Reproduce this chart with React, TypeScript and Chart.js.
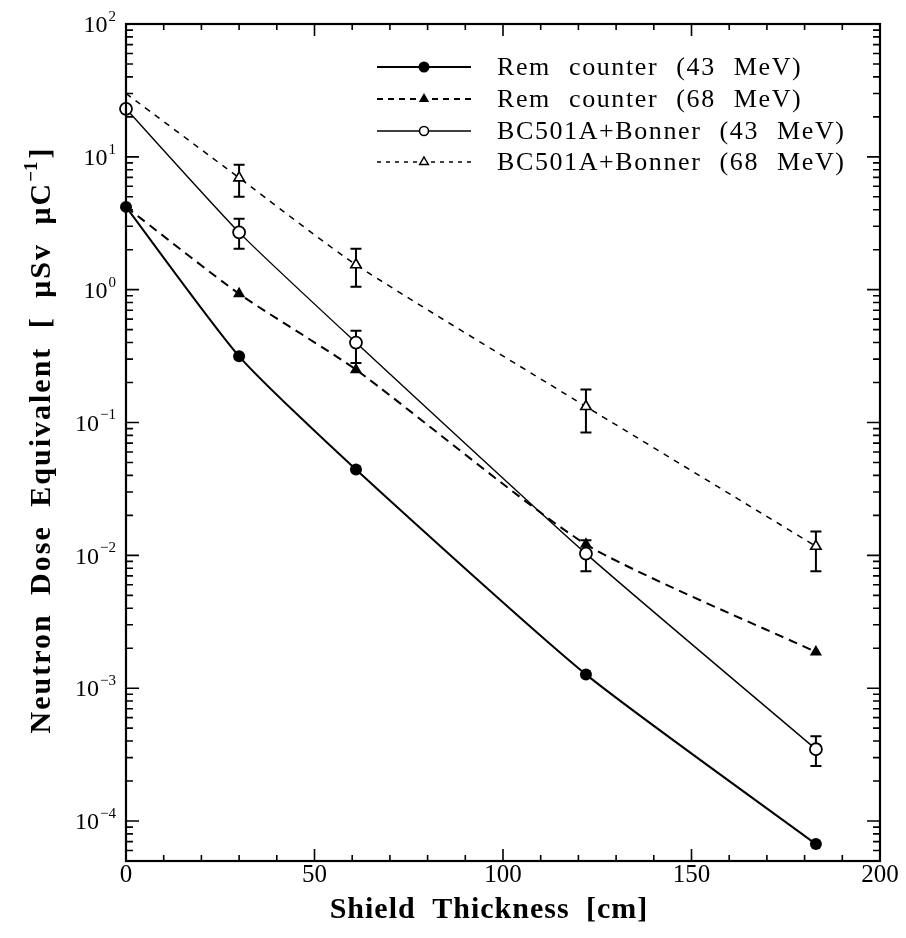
import React, { useEffect, useRef } from "react";
import { Chart, registerables } from "chart.js";

Chart.register(...registerables);

// ---- data ----
const thickness = [0, 30, 61, 122, 183];
const rem43 = [4.2, 0.315, 0.0443, 0.00127, 0.000067];
const rem68 = [4.2, 0.93, 0.25, 0.0121, 0.00187];
const bc43 = [23, 2.7, 0.4, 0.0103, 0.000347];
const bc68 = [30, 6.95, 1.54, 0.132, 0.0117];
const bc43Low = [null, 2.03, 0.28, 0.0076, 0.000259];
const bc43High = [null, 3.42, 0.49, 0.013, 0.000435];
const bc68Low = [null, 5.0, 1.05, 0.084, 0.0076];
const bc68High = [null, 8.7, 2.03, 0.177, 0.0151];
const seriesLabels = [
  "Rem counter (43 MeV)",
  "Rem counter (68 MeV)",
  "BC501A+Bonner (43 MeV)",
  "BC501A+Bonner (68 MeV)",
];
const xTickLabels = [0, 50, 100, 150, 200];
const yDecades = [-4, -3, -2, -1, 0, 1, 2];
const xTitle = "Shield Thickness [cm]";
const yTitleMain = "Neutron Dose Equivalent [ \u03bcSv \u03bcC";
const yTitleSup = "\u22121";
const yTitleEnd = "]";

const X_MIN = 0;
const X_MAX = 200;
const Y_MIN = 5e-5;
const Y_MAX = 100;

const SERIF = "'Liberation Serif', 'Times New Roman', serif";

function pts(ys: number[]) {
  return thickness.map((x, i) => ({ x, y: ys[i] }));
}

function setSpacing(ctx: any, letter: number, word: number) {
  ctx.letterSpacing = letter + "px";
  ctx.wordSpacing = word + "px";
}

function drawMarker(ctx: CanvasRenderingContext2D, kind: string, x: number, y: number) {
  ctx.save();
  ctx.strokeStyle = "#000";
  ctx.setLineDash([]);
  if (kind === "fcircle") {
    ctx.fillStyle = "#000";
    ctx.beginPath();
    ctx.arc(x, y, 5.5, 0, Math.PI * 2);
    ctx.fill();
  } else if (kind === "ocircle") {
    ctx.fillStyle = "#fff";
    ctx.lineWidth = 1.6;
    ctx.beginPath();
    ctx.arc(x, y, 4.5, 0, Math.PI * 2);
    ctx.fill();
    ctx.stroke();
  } else {
    const r = kind === "ftri" ? 6 : 5;
    ctx.beginPath();
    ctx.moveTo(x, y - r);
    ctx.lineTo(x + 0.866 * r, y + 0.5 * r);
    ctx.lineTo(x - 0.866 * r, y + 0.5 * r);
    ctx.closePath();
    if (kind === "ftri") {
      ctx.fillStyle = "#000";
      ctx.fill();
    } else {
      ctx.fillStyle = "#fff";
      ctx.lineWidth = 1.5;
      ctx.fill();
      ctx.stroke();
    }
  }
  ctx.restore();
}

const deco = {
  id: "deco",
  beforeDatasetsDraw(chart: any) {
    const ctx: CanvasRenderingContext2D = chart.ctx;
    const xs = chart.scales.x;
    const ys = chart.scales.y;
    ctx.save();
    ctx.strokeStyle = "#000";
    ctx.lineWidth = 2;
    const bars: [any[], any[]][] = [
      [bc43Low, bc43High],
      [bc68Low, bc68High],
    ];
    bars.forEach(([lo, hi]) => {
      thickness.forEach((t, i) => {
        if (lo[i] == null || hi[i] == null) return;
        const px = xs.getPixelForValue(t);
        const yl = ys.getPixelForValue(lo[i]);
        const yh = ys.getPixelForValue(hi[i]);
        ctx.beginPath();
        ctx.moveTo(px, yl);
        ctx.lineTo(px, yh);
        ctx.moveTo(px - 5.5, yl);
        ctx.lineTo(px + 5.5, yl);
        ctx.moveTo(px - 5.5, yh);
        ctx.lineTo(px + 5.5, yh);
        ctx.stroke();
      });
    });
    ctx.restore();
  },
  afterDraw(chart: any) {
    const ctx: any = chart.ctx;
    const { left, right, top, bottom } = chart.chartArea;
    const xs = chart.scales.x;
    const ys = chart.scales.y;
    ctx.save();
    ctx.strokeStyle = "#000";
    ctx.fillStyle = "#000";
    // frame
    ctx.lineWidth = 2.2;
    ctx.strokeRect(left, top, right - left, bottom - top);
    // x ticks
    ctx.lineWidth = 1.6;
    for (let v = X_MIN; v <= X_MAX; v += 10) {
      const px = xs.getPixelForValue(v);
      const len = v % 50 === 0 ? 12 : 6;
      ctx.beginPath();
      ctx.moveTo(px, bottom);
      ctx.lineTo(px, bottom - len);
      ctx.moveTo(px, top);
      ctx.lineTo(px, top + len);
      ctx.stroke();
    }
    // y ticks
    for (let k = -5; k <= 2; k++) {
      for (let m = 1; m <= 9; m++) {
        const v = m * Math.pow(10, k);
        if (v < Y_MIN * 0.999 || v > Y_MAX * 1.001) continue;
        const py = ys.getPixelForValue(v);
        const len = m === 1 ? 13 : 7;
        ctx.beginPath();
        ctx.moveTo(left, py);
        ctx.lineTo(left + len, py);
        ctx.moveTo(right, py);
        ctx.lineTo(right - len, py);
        ctx.stroke();
      }
    }
    // x tick labels
    setSpacing(ctx, 0, 0);
    ctx.font = `25px ${SERIF}`;
    ctx.textAlign = "center";
    ctx.textBaseline = "middle";
    xTickLabels.forEach((v) => {
      ctx.fillText(String(v), xs.getPixelForValue(v), 875);
    });
    // y tick labels
    yDecades.forEach((k) => {
      const py = ys.getPixelForValue(Math.pow(10, k));
      const exp = k < 0 ? "\u2212" + String(-k) : String(k);
      ctx.font = `15px ${SERIF}`;
      const we = ctx.measureText(exp).width;
      ctx.font = `24px ${SERIF}`;
      const wb = ctx.measureText("10").width;
      const xr = left - 10;
      ctx.textAlign = "left";
      ctx.textBaseline = "middle";
      ctx.fillText("10", xr - we - wb - 1, py + 2);
      ctx.font = `15px ${SERIF}`;
      ctx.fillText(exp, xr - we, py - 7);
    });
    // x title
    ctx.font = `bold 30px ${SERIF}`;
    setSpacing(ctx, 1, 8);
    ctx.textAlign = "center";
    ctx.textBaseline = "middle";
    ctx.fillText(xTitle, 489, 910);
    // y title
    ctx.save();
    ctx.translate(42, 440);
    ctx.rotate(-Math.PI / 2);
    ctx.textAlign = "left";
    ctx.textBaseline = "middle";
    ctx.font = `bold 30px ${SERIF}`;
    setSpacing(ctx, 2, 9);
    const w1 = ctx.measureText(yTitleMain).width;
    const w3 = ctx.measureText(yTitleEnd).width;
    ctx.font = `bold 19px ${SERIF}`;
    setSpacing(ctx, 0, 0);
    const w2 = ctx.measureText(yTitleSup).width;
    let sx = -(w1 + w2 + w3 + 3) / 2;
    ctx.font = `bold 30px ${SERIF}`;
    setSpacing(ctx, 2, 9);
    ctx.fillText(yTitleMain, sx, 0);
    sx += w1;
    ctx.font = `bold 19px ${SERIF}`;
    setSpacing(ctx, 0, 0);
    ctx.fillText(yTitleSup, sx, -10);
    sx += w2 + 3;
    ctx.font = `bold 30px ${SERIF}`;
    ctx.fillText(yTitleEnd, sx, 0);
    ctx.restore();
    // legend
    const rows = [67, 99, 131, 162];
    const styles = [
      { w: 2, dash: [] as number[], m: "fcircle" },
      { w: 1.8, dash: [6, 5], m: "ftri" },
      { w: 1.5, dash: [] as number[], m: "ocircle" },
      { w: 1.4, dash: [4, 5], m: "otri" },
    ];
    rows.forEach((ry, i) => {
      const st = styles[i];
      ctx.save();
      ctx.lineWidth = st.w;
      ctx.setLineDash(st.dash);
      ctx.beginPath();
      ctx.moveTo(377, ry);
      ctx.lineTo(471, ry);
      ctx.stroke();
      ctx.restore();
      drawMarker(ctx, st.m, 424, ry);
      ctx.font = `26px ${SERIF}`;
      setSpacing(ctx, 1.6, 10);
      ctx.textAlign = "left";
      ctx.textBaseline = "middle";
      ctx.fillStyle = "#000";
      ctx.fillText(seriesLabels[i], 497, ry + 1);
    });
    setSpacing(ctx, 0, 0);
    ctx.restore();
  },
};

export default function App() {
  const ref = useRef<HTMLCanvasElement | null>(null);
  useEffect(() => {
    document.body.style.margin = "0";
    const canvas = ref.current;
    if (!canvas) return;
    const chart = new Chart(canvas, {
      type: "line",
      data: {
        datasets: [
          {
            label: seriesLabels[0],
            data: pts(rem43),
            borderColor: "#000",
            backgroundColor: "#000",
            borderWidth: 2,
            pointStyle: "circle",
            pointRadius: 6,
            pointBackgroundColor: "#000",
            pointBorderColor: "#000",
            pointBorderWidth: 0,
            tension: 0.2,
            clip: false,
          },
          {
            label: seriesLabels[1],
            data: pts(rem68),
            borderColor: "#000",
            backgroundColor: "#000",
            borderWidth: 2,
            borderDash: [9, 6],
            pointStyle: "triangle",
            pointRadius: [0, 7, 7, 7, 7],
            pointBackgroundColor: "#000",
            pointBorderColor: "#000",
            pointBorderWidth: 0,
            tension: 0.2,
            clip: false,
          },
          {
            label: seriesLabels[2],
            data: pts(bc43),
            borderColor: "#000",
            backgroundColor: "#fff",
            borderWidth: 1.4,
            pointStyle: "circle",
            pointRadius: 6,
            pointBackgroundColor: "#fff",
            pointBorderColor: "#000",
            pointBorderWidth: 1.8,
            tension: 0.2,
            clip: false,
          },
          {
            label: seriesLabels[3],
            data: pts(bc68),
            borderColor: "#000",
            backgroundColor: "#fff",
            borderWidth: 1.5,
            borderDash: [6, 6],
            pointStyle: "triangle",
            pointRadius: [0, 6, 6, 6, 6],
            pointBackgroundColor: "#fff",
            pointBorderColor: "#000",
            pointBorderWidth: 1.6,
            tension: 0.2,
            clip: false,
          },
        ],
      },
      options: {
        responsive: false,
        animation: false,
        devicePixelRatio: 1,
        events: [],
        layout: { padding: { left: 0, top: 24, right: 26, bottom: 0 } },
        plugins: { legend: { display: false }, tooltip: { enabled: false } },
        scales: {
          x: {
            type: "linear",
            min: X_MIN,
            max: X_MAX,
            ticks: { display: false },
            grid: { display: false, drawTicks: false },
            border: { display: false },
            afterFit: (s: any) => {
              s.height = 77;
            },
          },
          y: {
            type: "logarithmic",
            min: Y_MIN,
            max: Y_MAX,
            ticks: { display: false },
            grid: { display: false, drawTicks: false },
            border: { display: false },
            afterFit: (s: any) => {
              s.width = 126;
            },
          },
        },
      },
      plugins: [deco],
    } as any);
    return () => chart.destroy();
  }, []);
  return (
    <div style={{ width: 906, height: 938, background: "#fff" }}>
      <canvas ref={ref} width={906} height={938} style={{ display: "block", width: 906, height: 938 }} />
    </div>
  );
}
